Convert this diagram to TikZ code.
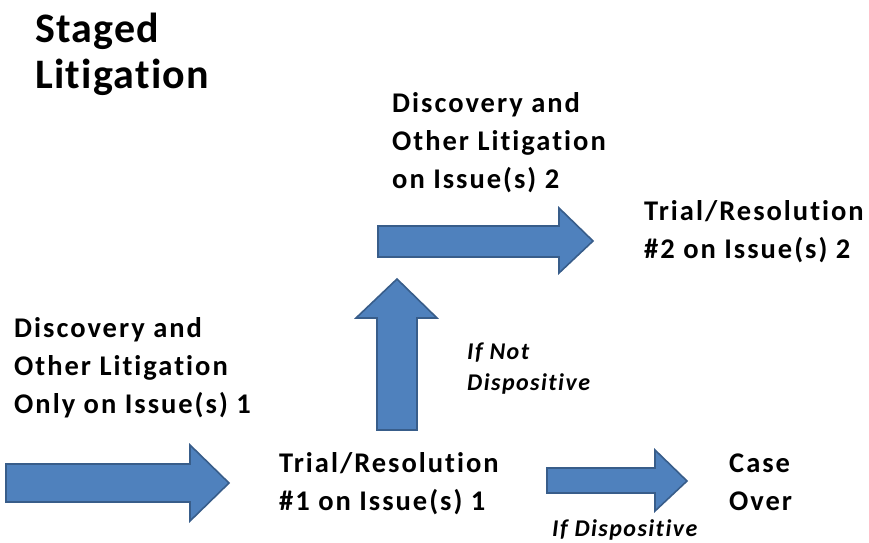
\documentclass[tikz,border=0pt]{standalone}
\usepackage{fontspec}
\setmainfont{Carlito}
\newfontfamily\titlefont{Carlito}[LetterSpace=3, Ligatures=NoCommon]
\newfontfamily\bodyfont{Carlito}[LetterSpace=7, Ligatures=NoCommon]
\newfontfamily\condfont{Carlito}[LetterSpace=6, Ligatures=NoCommon]
\definecolor{arrowfill}{HTML}{4F81BD}
\definecolor{arrowline}{HTML}{385D8A}
\tikzset{
  blockarrow/.style={fill=arrowfill, draw=arrowline, line width=1.6pt, line join=miter},
  titletext/.style={anchor=base west, inner sep=0pt, font=\titlefont\fontsize{42}{46.5}\selectfont\bfseries},
  bodytext/.style={anchor=base west, inner sep=0pt, font=\bodyfont\fontsize{28.5}{38}\selectfont\bfseries},
  condtext/.style={anchor=base west, inner sep=0pt, font=\condfont\fontsize{24}{31.5}\selectfont\bfseries\itshape},
}
\newcommand{\lines}[1]{\begin{tabular}[t]{@{}l@{}}#1\end{tabular}}
\begin{document}
\begin{tikzpicture}[x=1pt,y=-1pt]
\useasboundingbox (0,0) rectangle (869,542);
% block arrows
\draw[blockarrow] (6,464) -- (190,464) -- (190,445) -- (229,483) -- (190,521) -- (190,502) -- (6,502) -- cycle;
\draw[blockarrow] (377,430) -- (377,318) -- (356,318) -- (397,279) -- (437,318) -- (417,318) -- (417,430) -- cycle;
\draw[blockarrow] (378,226) -- (559,226) -- (559,208) -- (593,241) -- (559,273) -- (559,257) -- (378,257) -- cycle;
\draw[blockarrow] (547,468) -- (655,468) -- (655,450) -- (687,481) -- (655,511) -- (655,493) -- (547,493) -- cycle;
% texts
\node[titletext] (title) at (35,42) {\lines{Staged\\Litigation}};
\node[bodytext] (disc2) at (392,112) {\lines{Discovery and\\Other Litigation\\on Issue(s) 2}};
\node[bodytext] (trial2) at (644,220) {\lines{Trial/Resolution\\\#2 on Issue(s) 2}};
\node[bodytext] (disc1) at (14,337) {\lines{Discovery and\\Other Litigation\\Only on Issue(s) 1}};
\node[bodytext] (trial1) at (279,472) {\lines{Trial/Resolution\\\#1 on Issue(s) 1}};
\node[bodytext] (over) at (729,472) {\lines{Case\\Over}};
\node[condtext] (notdisp) at (467,359) {\lines{If Not\\Dispositive}};
\node[condtext] (disp) at (552,536) {If Dispositive};
\end{tikzpicture}
\end{document}
